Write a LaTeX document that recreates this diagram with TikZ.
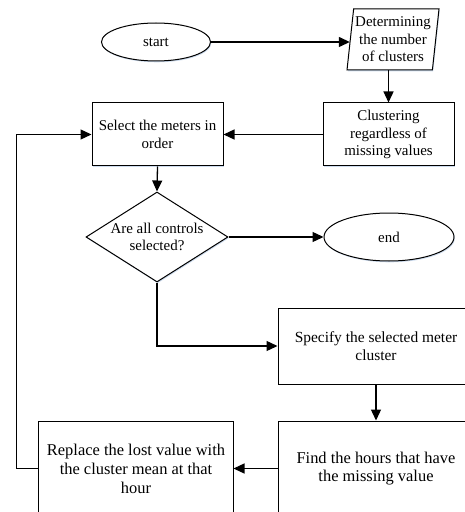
\documentclass[tikz,border=0pt]{standalone}
\usepackage{fontspec}
\setmainfont{Liberation Serif}
\usetikzlibrary{arrows.meta,positioning,shapes.geometric,shadows}
\definecolor{Ink}{HTML}{000000}
\definecolor{ShadowTint}{HTML}{C8D8EC}
\tikzset{
  main flow/.style={-{Triangle[length=11bp,width=10bp]}, draw=Ink, line width=1.3bp},
  box shadow/.style={drop shadow={shadow xshift=0.8bp, shadow yshift=-1.3bp,
    fill=ShadowTint, opacity=0.9}},
  process step/.style={rectangle, draw=Ink, fill=white, line width=1bp,
    align=center, text=Ink, font=\fontsize{15}{17.5}\selectfont, inner sep=2bp, box shadow},
  large step/.style={process step, font=\fontsize{16.5}{19}\selectfont},
  terminal step/.style={ellipse, draw=Ink, fill=white, line width=1bp,
    align=center, text=Ink, font=\fontsize{15}{17.5}\selectfont, inner sep=0pt, box shadow},
  decision step/.style={diamond, aspect=1.58, draw=Ink, fill=white, line width=1bp,
    align=center, text=Ink, font=\fontsize{15}{17}\selectfont, inner sep=-8bp, box shadow},
  input step/.style={trapezium, trapezium left angle=81.6, trapezium right angle=98.4,
    trapezium stretches body, draw=Ink, fill=white, line width=1bp,
    align=center, text=Ink, font=\fontsize{15}{17.5}\selectfont, inner sep=0pt, box shadow},
}

\begin{document}
\begin{tikzpicture}[x=1bp, y=-1bp]
  \useasboundingbox (0,0) rectangle (465,512);
  \clip (0,0) rectangle (465,512);

  % Upper row: start, cluster count and first clustering.
  \node[terminal step, minimum width=109bp, minimum height=38bp] (start) at (156,42) {start};
  \node[input step, minimum width=92bp, minimum height=61bp] (count) at (393,39.5)
    {Determining\\the number\\of clusters};
  \node[process step, minimum width=131bp, minimum height=63bp] (grouping) at (388.5,134.5)
    {Clustering\\regardless of\\missing values};
  \node[process step, minimum width=131bp, minimum height=63bp] (select) at (157.5,134.5)
    {Select the meters in\\order};

  % Decision and exit.
  \node[decision step, minimum width=142bp, minimum height=90bp] (check) at (157,237)
    {Are all controls\\selected?};
  \node[terminal step, minimum width=130bp, minimum height=48bp] (finish) at (389,237) {end};

  % Filling the missing values.
  \node[process step, minimum width=196bp, minimum height=76bp, font=\fontsize{15.5}{17.5}\selectfont]
    (cluster) at (376,346) {Specify the selected meter\\cluster};
  \node[large step, minimum width=196bp, minimum height=95bp, font=\fontsize{16.5}{17.5}\selectfont]
    (hours) at (376,468.5) {Find the hours that have\\the missing value};
  \node[large step, minimum width=194bp, minimum height=95bp] (replace) at (136,468.5)
    {Replace the lost value with\\the cluster mean at that\\hour};

  % Main flow.
  \draw[main flow] (start.east) -- (start.east -| count.west);
  \draw[main flow] (grouping.north |- count.south) -- (grouping.north);
  \draw[main flow] (grouping.west) -- (select.east);
  \draw[main flow] (select.south) -- (check.north);
  \draw[main flow] (check.east) -- (finish.west);
  \draw[main flow] (check.south) |- (cluster.west);
  \draw[main flow] (cluster.south) -- (hours.north);
  \draw[main flow] (hours.west) -- (replace.east);

  % Loop back to the next meter.
  \draw[main flow] (replace.west) -- ++(-22,0) |- (select.west);
\end{tikzpicture}
\end{document}
